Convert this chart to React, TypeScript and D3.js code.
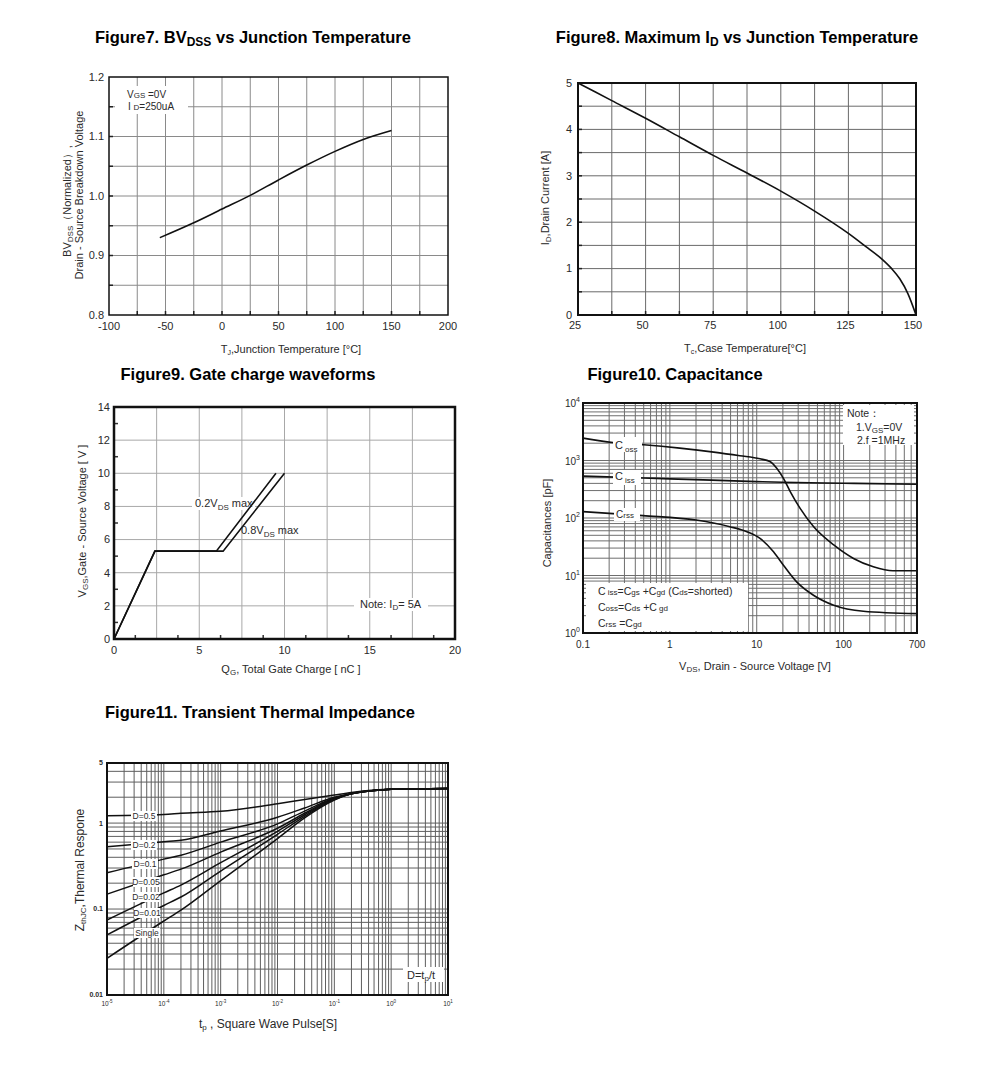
import React from 'react';
import * as d3 from 'd3';

const FONT = "'Liberation Sans', Arial, Helvetica, sans-serif";
const TXT = '#2a2a2a';
const TITLE = 16.5;
const TITLE_SUB = 12;

// ---------- Figure 7 : BVdss vs Tj ----------
const f7Temp = [-55, -25, 0, 25, 50, 75, 100, 125, 150];
const f7BV = [0.93, 0.955, 0.978, 1.001, 1.027, 1.052, 1.075, 1.095, 1.11];
const f7XTicks = [-100, -50, 0, 50, 100, 150, 200];
const f7YTicks = [0.8, 0.9, 1.0, 1.1, 1.2];

// ---------- Figure 8 : Max Id vs Tc ----------
const f8Temp = [25, 37.5, 50, 62.5, 75, 87.5, 100, 112.5, 125, 132, 137.5, 141, 144, 147, 150];
const f8Id = [5.0, 4.62, 4.24, 3.84, 3.44, 3.06, 2.67, 2.24, 1.76, 1.45, 1.2, 1.0, 0.78, 0.46, 0];
const f8XTicks = [25, 50, 75, 100, 125, 150];
const f8YTicks = [0, 1, 2, 3, 4, 5];

// ---------- Figure 9 : Gate charge ----------
const f9Q02 = [0, 2.4, 6.0, 9.5];
const f9V02 = [0, 5.3, 5.3, 10];
const f9Q08 = [0, 2.4, 6.4, 10];
const f9V08 = [0, 5.3, 5.3, 10];
const f9XTicks = [0, 5, 10, 15, 20];
const f9YTicks = [0, 2, 4, 6, 8, 10, 12, 14];

// ---------- Figure 10 : Capacitance ----------
const cossV = [0.1, 0.22, 0.5, 1.3, 3.2, 6.4, 10.9, 14.2, 17, 20.3, 24.3, 31.6, 45, 77, 130, 220, 370, 700];
const cossC = [2450, 2060, 1880, 1640, 1400, 1210, 1070, 960, 735, 490, 288, 147, 71, 34, 19.8, 14.2, 12.1, 12.1];
const cissV = [0.1, 0.5, 1, 10, 20, 100, 700];
const cissC = [535, 495, 480, 430, 418, 402, 387];
const crssV = [0.1, 0.49, 2.0, 4.9, 7.7, 10.9, 15.6, 20.3, 28.8, 45, 77, 169, 700];
const crssC = [129, 110, 92, 70.6, 57.8, 44.2, 25.9, 15.1, 7.75, 4.54, 3.04, 2.39, 2.17];
const f10XTicks = [0.1, 1, 10, 100, 700];
const f10YExp = [0, 1, 2, 3, 4];

// ---------- Figure 11 : Transient thermal impedance ----------
const thermalT = [1e-5, 1e-4, 2e-4, 1e-3, 1e-2, 3e-2, 0.1, 0.2, 0.5, 1, 10];
const zD05 = [1.22, 1.26, 1.3, 1.37, 1.68, 1.88, 2.12, 2.27, 2.42, 2.48, 2.53];
const zD02 = [0.53, 0.607, 0.632, 0.81, 1.17, 1.5, 2.0, 2.2, 2.4, 2.48, 2.53];
const zD01 = [0.264, 0.381, 0.423, 0.6, 0.98, 1.38, 1.96, 2.2, 2.4, 2.48, 2.53];
const zD005 = [0.149, 0.25, 0.291, 0.46, 0.87, 1.3, 1.93, 2.2, 2.4, 2.48, 2.53];
const zD002 = [0.0745, 0.154, 0.19, 0.346, 0.8, 1.25, 1.9, 2.2, 2.4, 2.48, 2.53];
const zD001 = [0.05, 0.11, 0.138, 0.277, 0.74, 1.2, 1.88, 2.2, 2.4, 2.48, 2.53];
const zSingle = [0.0267, 0.0726, 0.097, 0.214, 0.66, 1.15, 1.85, 2.2, 2.4, 2.48, 2.53];
const thermalSeries = [zD05, zD02, zD01, zD005, zD002, zD001, zSingle];
const thermalLabels = ['D=0.5', 'D=0.2', 'D=0.1', 'D=0.05', 'D=0.02', 'D=0.01', 'Single'];
const f11YTicks = [0.01, 0.1, 1, 5];
const f11XExp = [-5, -4, -3, -2, -1, 0, 1];

function mkPath(xs: number[], ys: number[], sx: any, sy: any, curve: any = d3.curveMonotoneX) {
  return d3.line<number>().x((_, i) => sx(xs[i])).y((d) => sy(d)).curve(curve)(ys) || '';
}

function logGrid(lo: number, hi: number) {
  const out: number[] = [];
  for (let e = -6; e <= 4; e++) {
    for (let m = 1; m <= 9; m++) {
      const v = m * Math.pow(10, e);
      if (v > lo * 1.0001 && v < hi * 0.9999) out.push(v);
    }
  }
  return out;
}

function Fig7() {
  const L = 109, R = 448, T = 77, B = 315;
  const x = d3.scaleLinear().domain([-100, 200]).range([L, R]);
  const y = d3.scaleLinear().domain([0.8, 1.2]).range([B, T]);
  const gx = d3.range(1, 12).map((i) => -100 + i * 25);
  const gy = d3.range(1, 8).map((i) => 0.8 + i * 0.05);
  return (
    <g>
      <text x={253} y={43} textAnchor="middle" fontWeight="bold" fontSize={TITLE} fill="#000">
        Figure7. BV<tspan dy={3} fontSize={TITLE_SUB}>DSS</tspan><tspan dy={-3}> vs Junction Temperature</tspan>
      </text>
      {gx.map((v) => <line key={'x' + v} x1={x(v)} x2={x(v)} y1={T} y2={B} stroke="#8a8a8a" strokeWidth={1} />)}
      {gy.map((v) => <line key={'y' + v} x1={L} x2={R} y1={y(v)} y2={y(v)} stroke="#8a8a8a" strokeWidth={1} />)}
      {gx.map((v) => <line key={'tx' + v} x1={x(v)} x2={x(v)} y1={B} y2={B - 4} stroke="#222" strokeWidth={1.5} />)}
      {gy.map((v) => <line key={'ty' + v} x1={L} x2={L + 4} y1={y(v)} y2={y(v)} stroke="#222" strokeWidth={1.5} />)}
      <rect x={115} y={86} width={73} height={28} fill="#fff" />
      <text x={127} y={98} fontSize={10} fill={TXT}>V<tspan fontSize={8}>GS</tspan> =0V</text>
      <text x={128} y={110} fontSize={10} fill={TXT}>I <tspan fontSize={8}>D</tspan>=250uA</text>
      <path d={mkPath(f7Temp, f7BV, x, y)} fill="none" stroke="#111" strokeWidth={1.6} />
      <rect x={L} y={T} width={R - L} height={B - T} fill="none" stroke="#111" strokeWidth={1.5} />
      {f7YTicks.map((v) => (
        <text key={'yl' + v} x={104} y={y(v)} dy="0.35em" textAnchor="end" fontSize={11} fill={TXT}>{v.toFixed(1)}</text>
      ))}
      {f7XTicks.map((v) => (
        <text key={'xl' + v} x={x(v)} y={330} textAnchor="middle" fontSize={11} fill={TXT}>{v}</text>
      ))}
      <text x={291} y={353} textAnchor="middle" fontSize={11} fill={TXT}>
        T<tspan dy={2} fontSize={7}>J</tspan><tspan dy={-2}>,Junction Temperature [°C]</tspan>
      </text>
      <text transform="translate(71,201) rotate(-90)" textAnchor="middle" fontSize={11} fill={TXT}>
        BV<tspan dy={2} fontSize={8}>DSS</tspan><tspan dy={-2}>（Normalized）,</tspan>
      </text>
      <text transform="translate(83,195) rotate(-90)" textAnchor="middle" fontSize={11} fill={TXT}>
        Drain - Source Breakdown Voltage
      </text>
    </g>
  );
}

function Fig8() {
  const L = 578, R = 916, T = 83, B = 315;
  const x = d3.scaleLinear().domain([25, 150]).range([L, R]);
  const y = d3.scaleLinear().domain([0, 5]).range([B, T]);
  const gx = d3.range(1, 10).map((i) => 25 + i * 12.5);
  const gy = d3.range(1, 10).map((i) => i * 0.5);
  return (
    <g>
      <text x={737} y={43} textAnchor="middle" fontWeight="bold" fontSize={TITLE} fill="#000">
        Figure8. Maximum I<tspan dy={3} fontSize={TITLE_SUB}>D</tspan><tspan dy={-3}> vs Junction Temperature</tspan>
      </text>
      {gx.map((v) => <line key={'x' + v} x1={x(v)} x2={x(v)} y1={T} y2={B} stroke="#6a6a6a" strokeWidth={1} />)}
      {gy.map((v) => <line key={'y' + v} x1={L} x2={R} y1={y(v)} y2={y(v)} stroke="#6a6a6a" strokeWidth={1} />)}
      {gx.map((v) => <line key={'tx' + v} x1={x(v)} x2={x(v)} y1={B} y2={B - 4} stroke="#222" strokeWidth={1.5} />)}
      {gy.map((v) => <line key={'ty' + v} x1={L} x2={L + 4} y1={y(v)} y2={y(v)} stroke="#222" strokeWidth={1.5} />)}
      <path d={mkPath(f8Temp, f8Id, x, y)} fill="none" stroke="#111" strokeWidth={1.6} />
      <rect x={L} y={T} width={R - L} height={B - T} fill="none" stroke="#111" strokeWidth={2} />
      {f8YTicks.map((v) => (
        <text key={'yl' + v} x={572} y={y(v)} dy="0.35em" textAnchor="end" fontSize={11} fill={TXT}>{v}</text>
      ))}
      {f8XTicks.map((v) => (
        <text key={'xl' + v} x={x(v) - 3} y={329} textAnchor="middle" fontSize={11} fill={TXT}>{v}</text>
      ))}
      <text x={745} y={352} textAnchor="middle" fontSize={11} fill={TXT}>
        T<tspan dy={2} fontSize={7}>c</tspan><tspan dy={-2}>,Case Temperature[°C]</tspan>
      </text>
      <text transform="translate(549,198) rotate(-90)" textAnchor="middle" fontSize={11} fill={TXT}>
        I<tspan dy={2} fontSize={8}>D</tspan><tspan dy={-2}>,Drain Current [A]</tspan>
      </text>
    </g>
  );
}

function Fig9() {
  const L = 114, R = 455, T = 407, B = 639;
  const x = d3.scaleLinear().domain([0, 20]).range([L, R]);
  const y = d3.scaleLinear().domain([0, 14]).range([B, T]);
  const gx = d3.range(1, 8).map((i) => i * 2.5);
  const gy = d3.range(1, 7).map((i) => i * 2);
  const mx = d3.range(0, 8).map((i) => 1.25 + i * 2.5);
  const my = d3.range(0, 7).map((i) => 1 + i * 2);
  return (
    <g>
      <text x={248} y={380} textAnchor="middle" fontWeight="bold" fontSize={TITLE} fill="#000">
        Figure9. Gate charge waveforms
      </text>
      {gx.map((v) => <line key={'x' + v} x1={x(v)} x2={x(v)} y1={T} y2={B} stroke="#a8a8a8" strokeWidth={1} />)}
      {gy.map((v) => <line key={'y' + v} x1={L} x2={R} y1={y(v)} y2={y(v)} stroke="#a8a8a8" strokeWidth={1} />)}
      {mx.map((v) => <line key={'mx' + v} x1={x(v)} x2={x(v)} y1={B} y2={B - 4} stroke="#333" strokeWidth={1.5} />)}
      {my.map((v) => <line key={'my' + v} x1={L} x2={L + 4} y1={y(v)} y2={y(v)} stroke="#333" strokeWidth={1.5} />)}
      <rect x={192} y={497} width={63} height={13} fill="#fff" />
      <rect x={354} y={598} width={74} height={13} fill="#fff" />
      <path d={mkPath(f9Q02, f9V02, x, y, d3.curveLinear)} fill="none" stroke="#111" strokeWidth={1.6} />
      <path d={mkPath(f9Q08, f9V08, x, y, d3.curveLinear)} fill="none" stroke="#111" strokeWidth={1.6} />
      <text x={195} y={507} fontSize={11} fill={TXT}>
        0.2V<tspan dy={3} fontSize={8}>DS</tspan><tspan dy={-3}> max</tspan>
      </text>
      <text x={241} y={534} fontSize={11} fill={TXT}>
        0.8V<tspan dy={3} fontSize={8}>DS</tspan><tspan dy={-3}> max</tspan>
      </text>
      <text x={360} y={608} fontSize={11} fill={TXT}>
        Note: I<tspan dy={2} fontSize={8}>D</tspan><tspan dy={-2}>= 5A</tspan>
      </text>
      <rect x={L} y={T} width={R - L} height={B - T} fill="none" stroke="#111" strokeWidth={2.5} />
      {f9YTicks.map((v) => (
        <text key={'yl' + v} x={110} y={y(v)} dy="0.35em" textAnchor="end" fontSize={11} fill={TXT}>{v}</text>
      ))}
      {f9XTicks.map((v) => (
        <text key={'xl' + v} x={x(v)} y={654} textAnchor="middle" fontSize={11} fill={TXT}>{v}</text>
      ))}
      <text x={291} y={673} textAnchor="middle" fontSize={11} fill={TXT}>
        Q<tspan dy={2} fontSize={8}>G</tspan><tspan dy={-2}>, Total Gate Charge [ nC ]</tspan>
      </text>
      <text transform="translate(86,521) rotate(-90)" textAnchor="middle" fontSize={11} fill={TXT}>
        V<tspan dy={2} fontSize={8}>GS</tspan><tspan dy={-2}>,Gate - Source Voltage [ V ]</tspan>
      </text>
    </g>
  );
}

function Fig10() {
  const L = 583, R = 917, T = 403, B = 633;
  const x = d3.scaleLog().domain([0.1, 700]).range([L, R]);
  const y = d3.scaleLog().domain([1, 1e4]).range([B, T]);
  const gx = logGrid(0.1, 700);
  const gy = logGrid(1, 1e4);
  return (
    <g>
      <text x={675} y={380} textAnchor="middle" fontWeight="bold" fontSize={TITLE} fill="#000">
        Figure10. Capacitance
      </text>
      {gx.map((v) => <line key={'x' + v} x1={x(v)} x2={x(v)} y1={T} y2={B} stroke="#6e6e6e" strokeWidth={1} />)}
      {gy.map((v) => <line key={'y' + v} x1={L} x2={R} y1={y(v)} y2={y(v)} stroke="#6e6e6e" strokeWidth={1} />)}
      <rect x={843} y={405} width={71} height={40} fill="#fff" />
      <rect x={586} y={583} width={162} height={48} fill="#fff" />
      <path d={mkPath(cossV, cossC, x, y)} fill="none" stroke="#111" strokeWidth={1.6} />
      <path d={mkPath(cissV, cissC, x, y)} fill="none" stroke="#111" strokeWidth={1.6} />
      <path d={mkPath(crssV, crssC, x, y)} fill="none" stroke="#111" strokeWidth={1.6} />
      <rect x={613} y={437} width={29} height={15} fill="#fff" />
      <rect x={613} y={470} width={28} height={15} fill="#fff" />
      <rect x={614} y={508} width={26} height={13} fill="#fff" />
      <text x={615} y={449} fontSize={11} fill={TXT}>C<tspan dx={2} dy={3} fontSize={8}>oss</tspan></text>
      <text x={615} y={480} fontSize={11} fill={TXT}>C<tspan dx={2} dy={3} fontSize={8}>iss</tspan></text>
      <text x={616} y={518} fontSize={10} fill={TXT}>C<tspan fontSize={8}>rss</tspan></text>
      <text x={847} y={417} fontSize={10.5} fill={TXT}>Note：</text>
      <text x={856} y={431} fontSize={10.5} fill={TXT}>1.V<tspan dy={2} fontSize={8}>GS</tspan><tspan dy={-2}>=0V</tspan></text>
      <text x={857} y={444} fontSize={10.5} fill={TXT}>2.f =1MHz</text>
      <text x={598} y={595} fontSize={10.5} fill={TXT}>
        C<tspan fontSize={8}> iss</tspan>=C<tspan fontSize={8}>gs</tspan> +C<tspan fontSize={8}>gd</tspan>  (C<tspan fontSize={8}>ds</tspan>=shorted)
      </text>
      <text x={598} y={611} fontSize={10.5} fill={TXT}>
        C<tspan fontSize={8}>oss</tspan>=C<tspan fontSize={8}>ds</tspan> +C<tspan fontSize={8}> gd</tspan>
      </text>
      <text x={598} y={627} fontSize={10.5} fill={TXT}>
        C<tspan fontSize={8}>rss</tspan> =C<tspan fontSize={8}>gd</tspan>
      </text>
      <rect x={L} y={T} width={R - L} height={B - T} fill="none" stroke="#111" strokeWidth={2} />
      {f10YExp.map((e) => (
        <text key={'yl' + e} x={580} y={y(Math.pow(10, e))} dy="0.4em" textAnchor="end" fontSize={10} fill={TXT}>
          10<tspan dy={-5} fontSize={7}>{e}</tspan>
        </text>
      ))}
      {f10XTicks.map((v) => (
        <text key={'xl' + v} x={x(v)} y={648} textAnchor="middle" fontSize={10} fill={TXT}>{v}</text>
      ))}
      <text x={755} y={670} textAnchor="middle" fontSize={11} fill={TXT}>
        V<tspan dy={2} fontSize={8}>DS</tspan><tspan dy={-2}>, Drain - Source Voltage [V]</tspan>
      </text>
      <text transform="translate(551,523) rotate(-90)" textAnchor="middle" fontSize={11} fill={TXT}>
        Capacitances [pF]
      </text>
    </g>
  );
}

function Fig11() {
  const L = 107, R = 448, T = 763, B = 995;
  const x = d3.scaleLog().domain([1e-5, 10]).range([L, R]);
  const y = d3.scaleLog().domain([0.01, 5]).range([B, T]);
  const gx = logGrid(1e-5, 10);
  const gy = logGrid(0.01, 5);
  const labelPos = [
    [144, 816], [144, 845], [145, 864], [146, 882], [146, 897], [147, 913], [147, 933],
  ];
  return (
    <g>
      <text x={260} y={718} textAnchor="middle" fontWeight="bold" fontSize={TITLE} fill="#000">
        Figure11. Transient Thermal Impedance
      </text>
      {gx.map((v) => <line key={'x' + v} x1={x(v)} x2={x(v)} y1={T} y2={B} stroke="#5e5e5e" strokeWidth={1} />)}
      {gy.map((v) => <line key={'y' + v} x1={L} x2={R} y1={y(v)} y2={y(v)} stroke="#5e5e5e" strokeWidth={1} />)}
      {thermalSeries.map((s, i) => (
        <path key={'c' + i} d={mkPath(thermalT, s, x, y)} fill="none" stroke="#111" strokeWidth={1.5} />
      ))}
      {thermalLabels.map((t, i) => (
        <g key={'l' + i}>
          <rect x={labelPos[i][0] - 13} y={labelPos[i][1] - 5} width={26} height={10} fill="#fff" />
          <text x={labelPos[i][0]} y={labelPos[i][1]} dy="0.35em" textAnchor="middle" fontSize={8.5} fill={TXT}>{t}</text>
        </g>
      ))}
      <rect x={403} y={967} width={41} height={15} fill="#fff" />
      <text x={407} y={979} fontSize={11} fill={TXT}>
        D=t<tspan dy={2} fontSize={8}>p</tspan><tspan dy={-2}>/t</tspan>
      </text>
      <rect x={L} y={T} width={R - L} height={B - T} fill="none" stroke="#111" strokeWidth={2} />
      {f11YTicks.map((v) => (
        <text key={'yl' + v} x={103} y={y(v)} dy="0.35em" textAnchor="end" fontSize={7} fontWeight="bold" fill={TXT}>{v}</text>
      ))}
      {f11XExp.map((e) => (
        <text key={'xl' + e} x={x(Math.pow(10, e))} y={1006} textAnchor="middle" fontSize={6.5} fill={TXT}>
          10<tspan dy={-3} fontSize={4.5}>{e}</tspan>
        </text>
      ))}
      <text x={268} y={1028} textAnchor="middle" fontSize={12} fill={TXT}>
        t<tspan dy={2} fontSize={8}>p</tspan><tspan dy={-2}> ,  Square Wave Pulse[S]</tspan>
      </text>
      <text transform="translate(84,870) rotate(-90)" textAnchor="middle" fontSize={12} fill={TXT}>
        Z<tspan dy={2} fontSize={8}>thJC</tspan><tspan dy={-2}>,Thermal Respone</tspan>
      </text>
    </g>
  );
}

export default function App() {
  return (
    <svg
      width={991}
      height={1087}
      viewBox="0 0 991 1087"
      style={{ position: 'absolute', left: 0, top: 0, background: '#fff' }}
      fontFamily={FONT}
    >
      <rect x={0} y={0} width={991} height={1087} fill="#fff" />
      <Fig7 />
      <Fig8 />
      <Fig9 />
      <Fig10 />
      <Fig11 />
    </svg>
  );
}
